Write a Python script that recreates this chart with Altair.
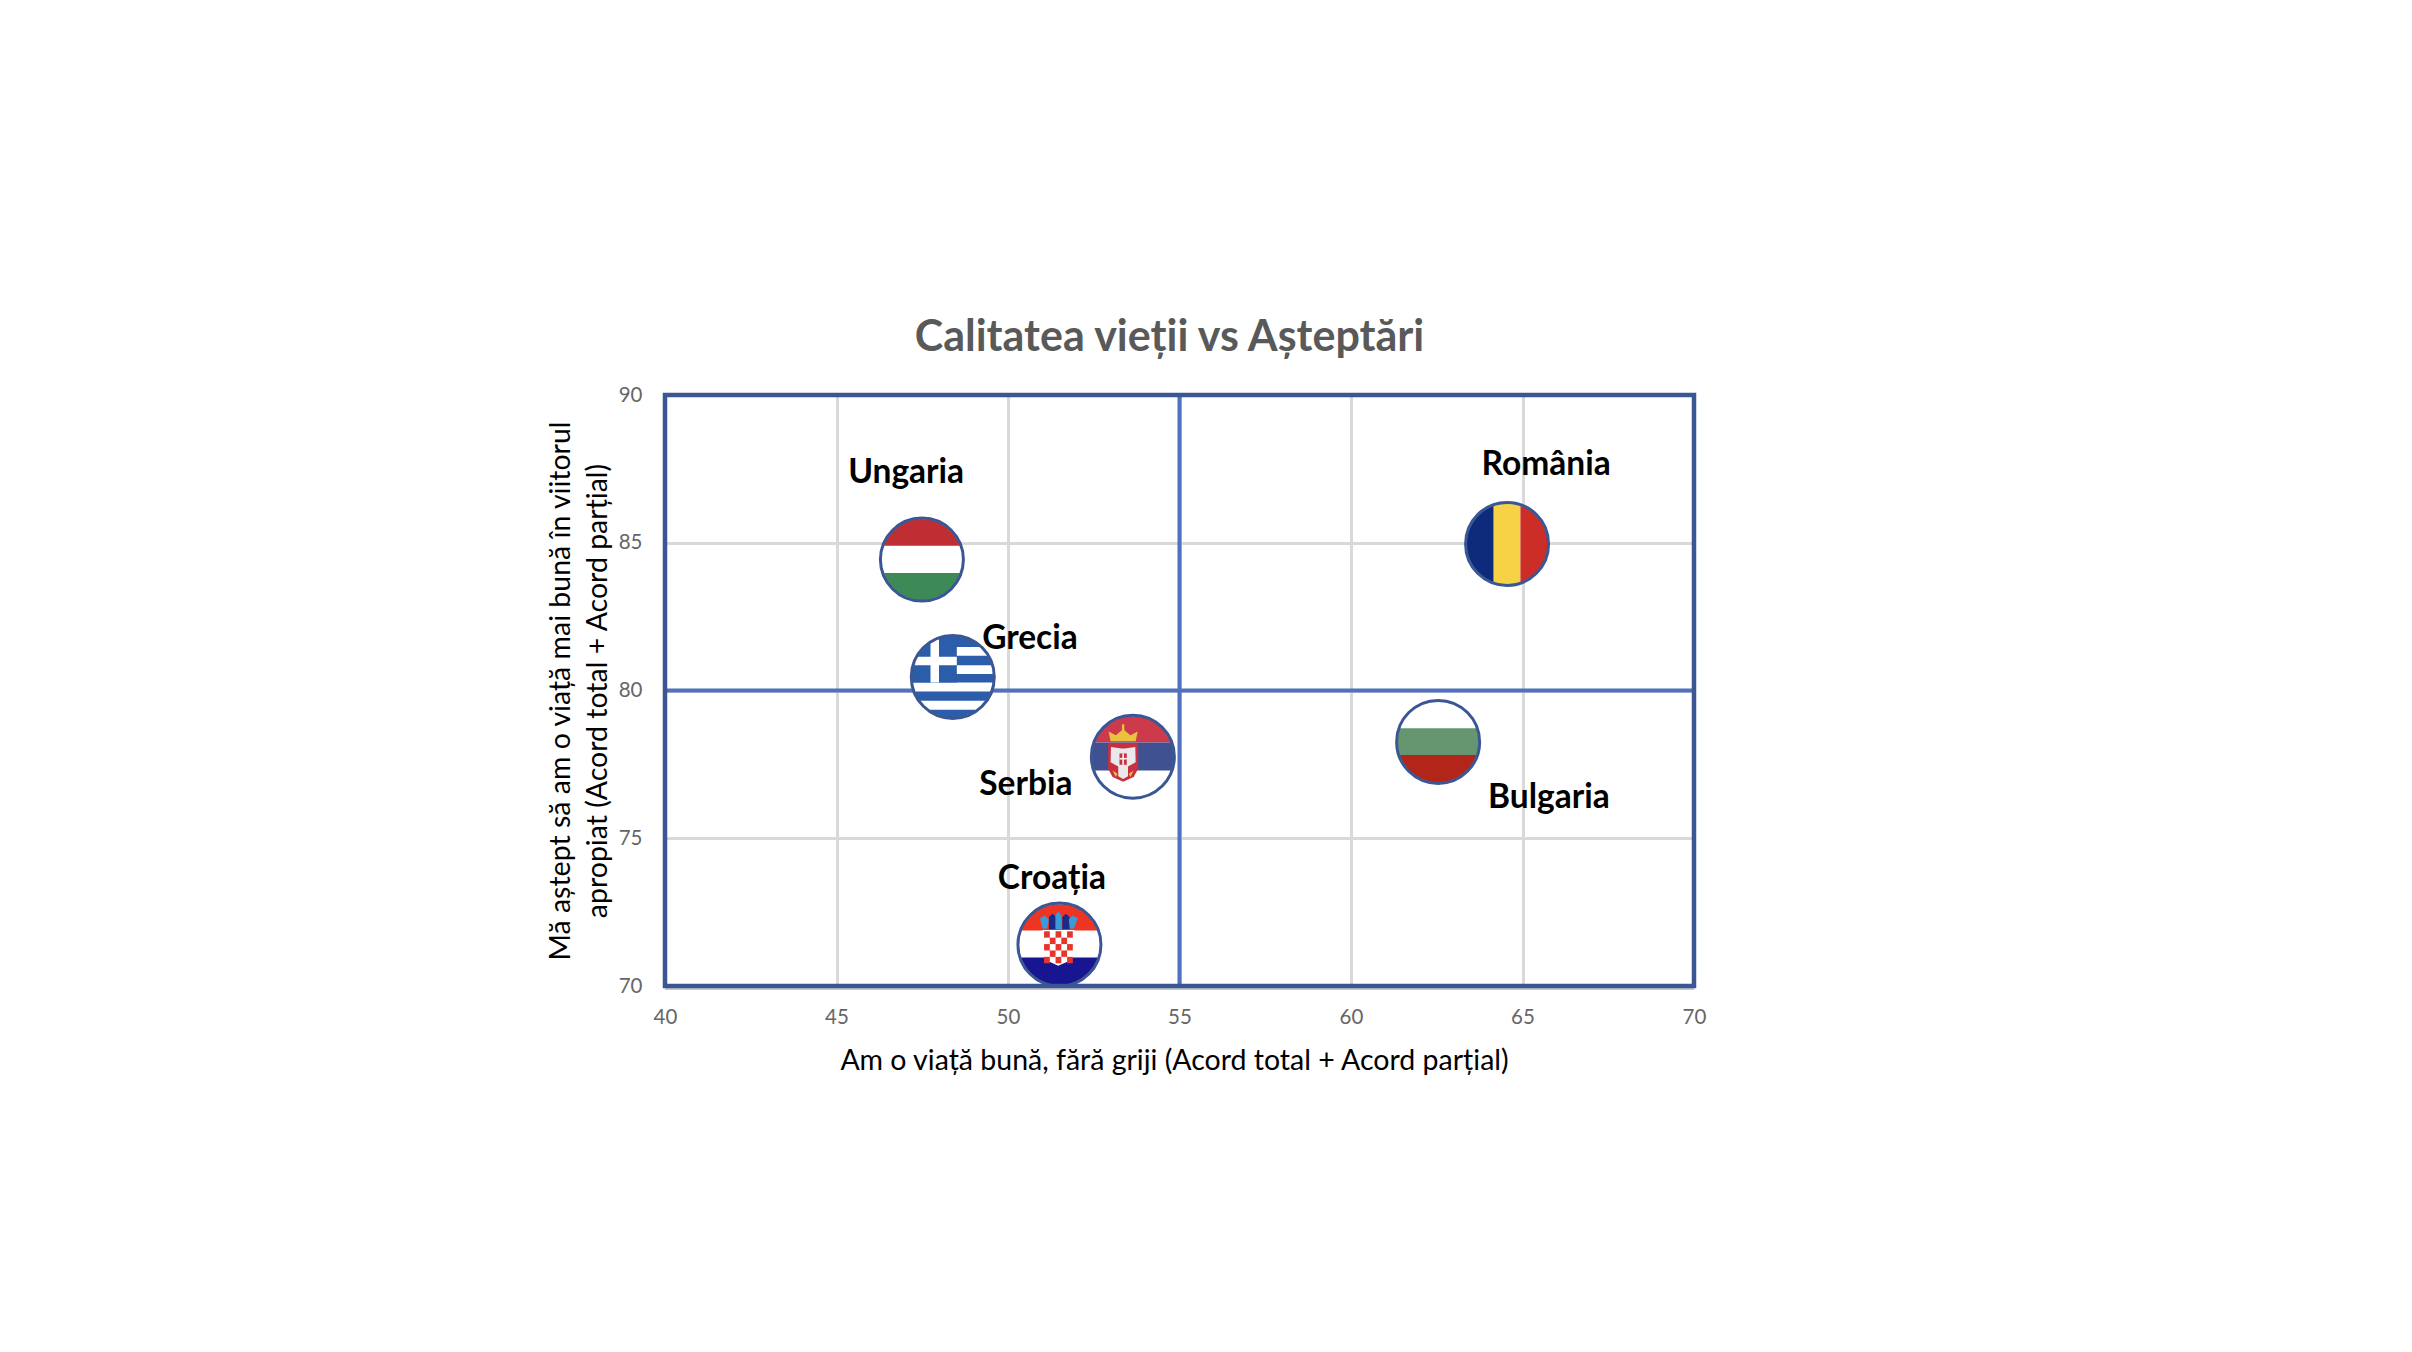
import math
import altair as alt
import pandas as pd

TITLE = "Calitatea vieții vs Așteptări"
X_TITLE = "Am o viață bună, fără griji  (Acord total + Acord parțial)"
Y_TITLE = ["Mă aștept să am o viață mai bună în viitorul", "apropiat (Acord total + Acord parțial)"]

countries = ["Ungaria", "Grecia", "România", "Serbia", "Bulgaria", "Croația"]
life_now = [47.49, 48.39, 64.55, 53.64, 62.54, 51.50]
life_future = [84.43, 80.46, 84.96, 77.76, 78.26, 71.40]
label_x = [47.03, 50.64, 65.69, 50.52, 65.77, 51.28]
label_y = [87.37, 81.73, 87.62, 76.79, 76.35, 73.61]

x_ticks = [40, 45, 50, 55, 60, 65, 70]
y_ticks = [70, 75, 80, 85, 90]
x_split = [55]
y_split = [80]

FONT = "Lato"
FRAME = "#3A5694"
SPLIT = "#4F71BE"
GRID = "#D9D9D9"


# ---- flag artwork, in the unit circle of each marker symbol ----
def circle_poly(n=96):
    return [(math.cos(2 * math.pi * i / n), math.sin(2 * math.pi * i / n)) for i in range(n)]


def clip(points, axis, limit, keep_less):
    out = []
    inside = lambda p: p[axis] <= limit if keep_less else p[axis] >= limit
    for i, p in enumerate(points):
        q = points[(i + 1) % len(points)]
        if inside(p):
            out.append(p)
        if inside(p) != inside(q):
            t = (limit - p[axis]) / (q[axis] - p[axis])
            out.append((p[0] + t * (q[0] - p[0]), p[1] + t * (q[1] - p[1])))
    return out


def to_path(points):
    return "M" + "L".join(f"{a:.3f},{b:.3f}" for a, b in points) + "Z"


def box(x0, y0, x1, y1):
    pts = circle_poly()
    for axis, limit, less in ((0, x0, False), (0, x1, True), (1, y0, False), (1, y1, True)):
        pts = clip(pts, axis, limit, less)
    return to_path(pts)


def poly(*points):
    return to_path(points)


def checks(x0, y0, x1, y1, n=5):
    w, h = (x1 - x0) / n, (y1 - y0) / n
    return [
        ("#E8352B", box(x0 + c * w, y0 + r * h, x0 + (c + 1) * w, y0 + (r + 1) * h))
        for r in range(n) for c in range(n) if (r + c) % 2 == 0
    ]


flags = {
    "Ungaria": [("#BE2E32", box(-1, -1, 1, -0.34)), ("#3E8A57", box(-1, 0.33, 1, 1))],
    "Grecia": [
        ("#2B5DAA", box(-1, -1, 1, -0.74)), ("#2B5DAA", box(-1, -0.52, 1, -0.29)),
        ("#2B5DAA", box(-1, -0.07, 1, 0.14)), ("#2B5DAA", box(-1, 0.36, 1, 0.59)),
        ("#2B5DAA", box(-1, 0.81, 1, 1)), ("#2B5DAA", box(-1, -1, 0.10, 0.14)),
        ("#FFFFFF", box(-0.55, -1, -0.34, 0.14)), ("#FFFFFF", box(-1, -0.50, 0.10, -0.29)),
    ],
    "România": [("#0E2A7B", box(-1, -1, -0.33, 1)), ("#F7D247", box(-0.33, -1, 0.33, 1)),
                ("#CC2D26", box(0.33, -1, 1, 1))],
    "Serbia": [
        ("#CD3A4C", box(-1, -1, 1, -0.35)), ("#3F5190", box(-1, -0.35, 1, 0.34)),
        ("#C9303F", poly((-0.61, -0.34), (0.13, -0.34), (0.13, 0.3), (0.02, 0.5), (-0.24, 0.62), (-0.5, 0.5), (-0.61, 0.3))),
        ("#E9E9EC", poly((-0.28, -0.2), (-0.54, -0.24), (-0.55, 0.14), (-0.36, 0.24), (-0.36, 0.48), (-0.24, 0.55), (-0.12, 0.48), (-0.12, 0.24), (0.07, 0.14), (0.06, -0.24), (-0.2, -0.2))),
        ("#C9303F", box(-0.33, -0.08, -0.15, 0.2)),
        ("#F4F4F4", box(-0.26, -0.08, -0.22, 0.2)), ("#F4F4F4", box(-0.33, 0.03, -0.15, 0.07)),
        ("#EBC23F", poly((-0.55, -0.38), (-0.6, -0.62), (-0.42, -0.53), (-0.24, -0.68), (-0.06, -0.53), (0.12, -0.62), (0.07, -0.38))),
        ("#EBC23F", box(-0.27, -0.8, -0.21, -0.62)),
        ("#EBC23F", poly((-0.5, 0.34), (-0.38, 0.42), (-0.42, 0.5))),
        ("#EBC23F", poly((0.02, 0.34), (-0.1, 0.42), (-0.06, 0.5))),
    ],
    "Bulgaria": [("#66966F", box(-1, -0.34, 1, 0.32)), ("#B32518", box(-1, 0.32, 1, 1))],
    "Croația": [
        ("#EE3524", box(-1, -1, 1, -0.35)), ("#17158F", box(-1, 0.32, 1, 1)),
        ("#FFFFFF", poly((-0.42, -0.36), (0.37, -0.36), (0.37, 0.2), (0.25, 0.4), (-0.03, 0.52), (-0.3, 0.4), (-0.42, 0.2))),
        *checks(-0.38, -0.33, 0.33, 0.46),
        ("#3E9AD6", poly((-0.48, -0.65), (-0.36, -0.72), (-0.26, -0.62), (-0.3, -0.4), (-0.42, -0.4))),
        ("#1B2A87", poly((-0.26, -0.68), (-0.17, -0.76), (-0.08, -0.68), (-0.08, -0.38), (-0.26, -0.38))),
        ("#3E9AD6", poly((-0.1, -0.72), (-0.03, -0.82), (0.05, -0.72), (0.06, -0.38), (-0.1, -0.38))),
        ("#1B2A87", poly((0.07, -0.68), (0.16, -0.76), (0.25, -0.68), (0.25, -0.38), (0.07, -0.38))),
        ("#3E9AD6", poly((0.23, -0.62), (0.33, -0.72), (0.45, -0.65), (0.36, -0.4), (0.26, -0.4))),
    ],
}

points = pd.DataFrame({"country": countries, "x": life_now, "y": life_future,
                       "lx": label_x, "ly": label_y})
parts = pd.DataFrame([
    {"x": px, "y": py, "path": path, "color": color, "seq": i}
    for name, px, py in zip(countries, life_now, life_future)
    for i, (color, path) in enumerate(flags[name])
])

sx = alt.Scale(domain=[x_ticks[0], x_ticks[-1]], nice=False, zero=False)
sy = alt.Scale(domain=[y_ticks[0], y_ticks[-1]], nice=False, zero=False)

x_axis = alt.Axis(
    values=x_ticks, grid=True, gridColor=GRID, gridWidth=3, domain=False, ticks=False,
    labelFont=FONT, labelFontSize=20.5, labelColor="#666666", labelPadding=21, labelFlush=False,
    titleFont=FONT, titleFontSize=28.5, titleFontWeight="normal", titleColor="#000000",
    titlePadding=19, titleX=509)
y_axis = alt.Axis(
    values=y_ticks, grid=True, gridColor=GRID, gridWidth=3, domain=False, ticks=False,
    labelFont=FONT, labelFontSize=20.5, labelColor="#666666", labelPadding=23,
    titleFont=FONT, titleFontSize=28.5, titleFontWeight="normal", titleColor="#000000",
    titleLineHeight=37, titlePadding=6)


def X(field):
    return alt.X(field, scale=sx, axis=x_axis, title=X_TITLE)


def Y(field):
    return alt.Y(field, scale=sy, axis=y_axis, title=Y_TITLE)


frame_df = pd.DataFrame({"x0": [x_ticks[0]], "x1": [x_ticks[-1]], "y0": [y_ticks[0]], "y1": [y_ticks[-1]]})

vsplit = alt.Chart(pd.DataFrame({"x": x_split})).mark_rule(color=SPLIT, strokeWidth=4).encode(x=X("x:Q"))
hsplit = alt.Chart(pd.DataFrame({"y": y_split})).mark_rule(color=SPLIT, strokeWidth=4).encode(y=Y("y:Q"))

discs = alt.Chart(points).mark_point(
    shape="circle", filled=True, fill="#FFFFFF", opacity=1, size=6889, strokeWidth=0
).encode(x=X("x:Q"), y=Y("y:Q"))

stripes = alt.Chart(parts).mark_point(filled=True, opacity=1, size=6561, strokeWidth=0).encode(
    x=X("x:Q"),
    y=Y("y:Q"),
    shape=alt.Shape("path:N", scale=None),
    color=alt.Color("color:N", scale=None),
    order=alt.Order("seq:Q"),
)

rings = alt.Chart(points).mark_point(
    shape="circle", filled=False, stroke=FRAME, opacity=1, size=6889, strokeWidth=3
).encode(x=X("x:Q"), y=Y("y:Q"))

shadow = alt.Chart(frame_df).mark_rule(color="#C8C8C8", strokeWidth=2, yOffset=3).encode(y=Y("y0:Q"))

frame = alt.Chart(frame_df).mark_rect(filled=False, stroke=FRAME, strokeWidth=4.5).encode(
    x=X("x0:Q"), x2="x1:Q", y=Y("y0:Q"), y2="y1:Q",
)

labels = alt.Chart(points).mark_text(
    font=FONT, fontSize=33.5, fontWeight="bold", color="#000000", align="center", baseline="middle"
).encode(x=X("lx:Q"), y=Y("ly:Q"), text="country:N")

chart = alt.layer(vsplit, hsplit, discs, stripes, rings, shadow, frame, labels).properties(
    width=1029,
    height=591,
    title=alt.TitleParams(TITLE, font=FONT, fontSize=43, fontWeight="bold", color="#595959",
                          anchor="middle", offset=25, dx=-10),
    padding={"left": 657, "top": 387, "right": 700, "bottom": 340},
    autosize=alt.AutoSizeParams(type="none"),
    background="#FFFFFF",
).configure_view(stroke=None)

chart.save("out.html", embed_options={"renderer": "svg", "actions": False})
